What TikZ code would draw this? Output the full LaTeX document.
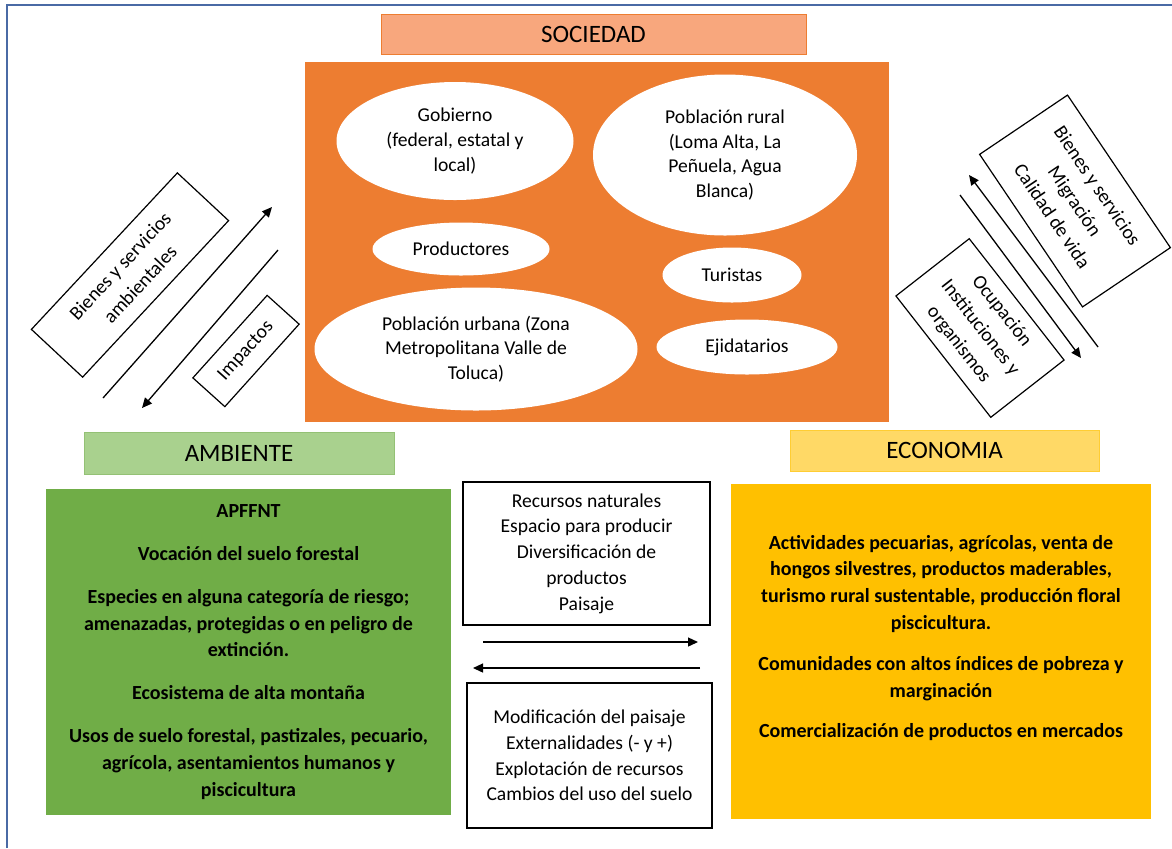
\documentclass[tikz,border=0pt]{standalone}
\usepackage{fontspec}
\setmainfont{Carlito}
\usetikzlibrary{shapes.geometric,arrows.meta}
\definecolor{orng}{HTML}{ED7D31}
\definecolor{orngl}{HTML}{F8A77D}
\definecolor{grn}{HTML}{70AD47}
\definecolor{grnl}{HTML}{A9D18E}
\definecolor{yel}{HTML}{FFC000}
\definecolor{yell}{HTML}{FFD966}
\definecolor{bordblue}{HTML}{4A6AA5}

\begin{document}
\begin{tikzpicture}[x=0.5pt,y=-0.5pt,
        oval/.style={ellipse,fill=white,inner sep=0pt,align=center,font=\fontsize{9.8}{12.3}\selectfont},
        head/.style={draw,line width=0.5pt,align=center,font=\fontsize{12.5}{15}\selectfont},
        tbox/.style={draw,line width=0.6pt,align=center,inner sep=0pt,font=\fontsize{9.8}{12.9}\selectfont},
        tilt/.style={tbox,font=\fontsize{9.8}{13.6}\selectfont},
        bold/.style={align=center,font=\fontsize{10}{13.4}\selectfont\bfseries}]
        \useasboundingbox (0,0) rectangle (1172,848);
        \draw[bordblue,line width=1pt] (7,848) -- (7,5) -- (1172,5);

        % sociedad
        \node[head,fill=orngl,draw=orng,minimum width=212.5pt,minimum height=20pt] (soc) at (593.5,34) {SOCIEDAD};
        \node[fill=orng,minimum width=292pt,minimum height=180pt] (socbox) at (597,242) {};
        \node[oval,minimum width=118.5pt,minimum height=59pt] (gob) at (455,141) {Gobierno\\(federal, estatal y\\local)};
        \node[oval,minimum width=132pt,minimum height=80.5pt] (rural) at (725,155) {Población rural\\(Loma Alta, La\\Peñuela, Agua\\Blanca)};
        \node[oval,minimum width=88.5pt,minimum height=26.5pt] (prod) at (461,249) {Productores};
        \node[oval,minimum width=69.5pt,minimum height=27.5pt] (tur) at (732,275) {Turistas};
        \node[oval,minimum width=161.5pt,minimum height=61.5pt] (urb) at (476,349) {Población urbana (Zona\\Metropolitana Valle de\\Toluca)};
        \node[oval,minimum width=90.5pt,minimum height=27.5pt] (ejid) at (747,347) {Ejidatarios};

        % ambiente
        \node[head,fill=grnl,draw=grn!75,minimum width=155pt,minimum height=21pt] (amb) at (239,453) {AMBIENTE};
        \node[bold,fill=grn,minimum width=202.5pt,minimum height=163pt] (ambbox) at (248.5,652) {APFFNT\\[8pt]
            Vocación del suelo forestal\\[8pt]
            Especies en alguna categoría de riesgo;\\amenazadas, protegidas o en peligro de\\extinción.\\[8pt]
            Ecosistema de alta montaña\\[8pt]
            Usos de suelo forestal, pastizales, pecuario,\\agrícola, asentamientos humanos y\\piscicultura};

        % economia
        \node[head,fill=yell,draw=yel!80,minimum width=154.5pt,minimum height=20.5pt] (eco) at (944.5,450.5) {ECONOMIA};
        \node[fill=yel,minimum width=210pt,minimum height=167.5pt] (ecobox) at (941,651.5) {};
        \node[bold] (ecotxt) at (941,638) {Actividades pecuarias, agrícolas, venta de\\hongos silvestres, productos maderables,\\turismo rural sustentable, producción floral\\piscicultura.\\[7pt]
            Comunidades con altos índices de pobreza y\\marginación\\[7pt]
            Comercialización de productos en mercados};

        % intercambios
        \node[tbox,minimum width=123.5pt,minimum height=71.5pt] (rec) at (586.5,553.5) {Recursos naturales\\Espacio para producir\\Diversificación de\\productos\\Paisaje};
        \node[tbox,minimum width=122.5pt,minimum height=72.5pt] (mod) at (589.5,755.5) {Modificación del paisaje\\Externalidades (- y +)\\Explotación de recursos\\Cambios del uso del suelo};
        \node[tilt,rotate=47,minimum width=107pt,minimum height=35pt] (bsa) at (130,275) {Bienes y servicios\\ambientales};
        \node[tilt,rotate=48,minimum width=55.5pt,minimum height=21.5pt] (imp) at (246,351) {Impactos};
        \node[tilt,rotate=-56,minimum width=92pt,minimum height=53pt] (bsm) at (1075,201) {Bienes y servicios\\Migración\\Calidad de vida};
        \node[tilt,rotate=-52,minimum width=77pt,minimum height=46.5pt] (ocu) at (980,328) {Ocupación\\Instituciones y\\organismos};

        \coordinate (r1) at (483,642);
        \coordinate (r2) at (698,642);
        \coordinate (l1) at (700,668);
        \coordinate (l2) at (473,668);
        \coordinate (a1) at (103,398);
        \coordinate (a2) at (272,207);
        \coordinate (b1) at (278,250);
        \coordinate (b2) at (142,408);
        \coordinate (c1) at (1098,347);
        \coordinate (c2) at (969,175);
        \coordinate (d1) at (960,195);
        \coordinate (d2) at (1081,358);

        \path [draw,line width=0.65pt,->,>={Triangle[length=5pt,width=4.5pt]}] (r1) to (r2);
        \path [draw,line width=0.65pt,->,>={Triangle[length=5pt,width=4.5pt]}] (l1) to (l2);
        \path [draw,line width=0.65pt,->,>={Triangle[length=5pt,width=4.5pt]}] (a1) to (a2);
        \path [draw,line width=0.65pt,->,>={Triangle[length=5pt,width=4.5pt]}] (b1) to (b2);
        \path [draw,line width=0.65pt,->,>={Triangle[length=5pt,width=4.5pt]}] (c1) to (c2);
        \path [draw,line width=0.65pt,->,>={Triangle[length=5pt,width=4.5pt]}] (d1) to (d2);
    \end{tikzpicture}
\end{document}
